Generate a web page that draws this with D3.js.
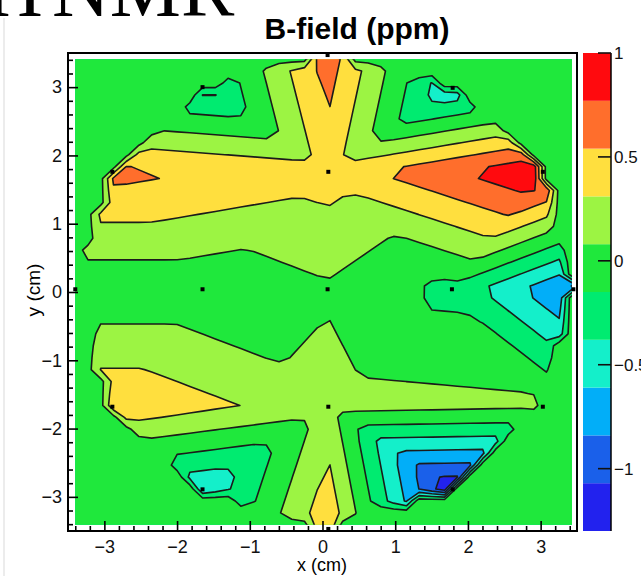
<!DOCTYPE html>
<html><head><meta charset="utf-8">
<script src="https://cdn.jsdelivr.net/npm/d3@7"></script>
<style>body{margin:0;background:#fff}svg{display:block}</style>
</head><body>
<svg id="chart" width="641" height="576"></svg>
<script>
// ---- measured points (x cm, y cm, B-field ppm) ----
const pointX = [0.07, 1.78, 0.08, -1.65, 0.08, 3.45, 3.03, 1.79, 0.07, -1.65, -2.89, -3.40, -2.89, -1.65, 0.08, 1.79, 3.03];
const pointY = [0.04, 0.04, 1.76, 0.04, -1.68, 0.04, 1.76, 2.99, 3.47, 3.00, 1.76, 0.04, -1.68, -2.89, -3.47, -2.89, -1.68];
const pointZ = [0.05, -0.22, 0.42, -0.10, 0.18, -0.90, 1.00, -0.60, 0.67, -0.48, 0.62, -0.10, 0.51, -0.60, 0.50, -1.30, 0.12];
// Delaunay triangles (point indices) used for the linear interpolation
const triangles = [
  [0,1,2],[0,2,3],[0,3,4],[0,4,1],
  [1,2,6],[2,6,7],[2,7,8],[1,5,6],
  [3,2,10],[2,10,9],[2,9,8],[3,11,10],
  [3,4,12],[4,12,13],[4,13,14],[3,11,12],
  [1,4,16],[4,16,15],[4,15,14],[1,5,16]
];
// contour levels and palette
const levels = [-1.3, -1.07, -0.84, -0.61, -0.38, -0.15, 0.08, 0.31, 0.54, 0.77, 1.0];
const bandColors = ["#2222ee", "#1a60ea", "#02aef8", "#14efca", "#00eb70", "#1fe83c", "#9cf443", "#ffdf3e", "#ff6e2c", "#ff0a0e"];
const xTicks = [-3, -2, -1, 0, 1, 2, 3];
const yTicks = [-3, -2, -1, 0, 1, 2, 3];
const zTicks = [-1, -0.5, 0, 0.5, 1];

const svg = d3.select("#chart");
const font = "'Liberation Sans', Arial, Helvetica, sans-serif";

const frame = {l: 68, r: 577, t: 53, b: 531};
const x = d3.scaleLinear().domain([-3.5, 3.5]).range([frame.l, frame.r]);
const y = d3.scaleLinear().domain([-3.5, 3.5]).range([frame.b, frame.t]);

// interpolation grid (histogram bin centres)
const NG = 40, gx0 = -3.40, gx1 = 3.43, gy0 = -3.41, gy1 = 3.41;
const sx = (gx1 - gx0) / (NG - 1), sy = (gy1 - gy0) / (NG - 1);
function interp(px, py) {
  for (const [a, b, c] of triangles) {
    const x1 = pointX[a], y1 = pointY[a], x2 = pointX[b], y2 = pointY[b], x3 = pointX[c], y3 = pointY[c];
    const det = (y2 - y3) * (x1 - x3) + (x3 - x2) * (y1 - y3);
    const l1 = ((y2 - y3) * (px - x3) + (x3 - x2) * (py - y3)) / det;
    const l2 = ((y3 - y1) * (px - x3) + (x1 - x3) * (py - y3)) / det;
    const l3 = 1 - l1 - l2;
    if (l1 >= -1e-9 && l2 >= -1e-9 && l3 >= -1e-9) return l1 * pointZ[a] + l2 * pointZ[b] + l3 * pointZ[c];
  }
  return 0;
}
const grid = new Array(NG * NG);
for (let j = 0; j < NG; j++) for (let i = 0; i < NG; i++) grid[j * NG + i] = interp(gx0 + i * sx, gy1 - j * sy);

const contours = d3.contours().size([NG, NG]).thresholds(levels.slice(0, 10))(grid);
const proj = d3.geoTransform({
  point(cx, cy) { this.stream.point(x(gx0 + (cx - 0.5) * sx), y(gy1 - (cy - 0.5) * sy)); }
});
const path = d3.geoPath(proj);

svg.append("defs").append("clipPath").attr("id", "gclip").append("rect")
  .attr("x", x(gx0)).attr("y", y(gy1)).attr("width", x(gx1) - x(gx0)).attr("height", y(gy0) - y(gy1));

const plot = svg.append("g").attr("clip-path", "url(#gclip)");
plot.selectAll("path.band").data(contours).join("path")
  .attr("class", "band").attr("d", path)
  .attr("fill", (d, i) => bandColors[i]).attr("stroke", "none");
plot.selectAll("path.line").data(contours.slice(1)).join("path")
  .attr("class", "line").attr("d", path)
  .attr("fill", "none").attr("stroke", "#1b1b1b").attr("stroke-width", 1.6).attr("stroke-linejoin", "round");

// markers
svg.append("g").selectAll("rect").data(pointX.map((v, i) => i)).join("rect")
  .attr("x", i => x(pointX[i]) - 2).attr("y", i => y(pointY[i]) - 2)
  .attr("width", 4).attr("height", 4).attr("fill", "#000");

// axes
const minorX = d3.range(-3.4, 3.41, 0.2).map(v => +v.toFixed(1)).filter(v => Math.abs(v - Math.round(v)) > 1e-6);
const fmt = d => (d < 0 ? "\u2212" : "") + Math.abs(d);

svg.append("g").attr("transform", `translate(0,${frame.b})`)
  .call(d3.axisBottom(x).tickValues(xTicks).tickSize(-10).tickPadding(9).tickFormat(fmt));
svg.append("g").attr("transform", `translate(0,${frame.b})`)
  .call(d3.axisBottom(x).tickValues(minorX).tickSize(-5).tickFormat(""));
svg.append("g").attr("transform", `translate(${frame.l},0)`)
  .call(d3.axisLeft(y).tickValues(yTicks).tickSize(-10).tickPadding(6).tickFormat(fmt));
svg.append("g").attr("transform", `translate(${frame.l},0)`)
  .call(d3.axisLeft(y).tickValues(minorX).tickSize(-5).tickFormat(""));
svg.selectAll(".domain").remove();
svg.selectAll(".tick line").attr("stroke", "#000").attr("stroke-width", 1.6);
svg.selectAll(".tick text").attr("font-family", font).attr("font-size", 18).attr("fill", "#111");

svg.append("rect").attr("x", frame.l).attr("y", frame.t)
  .attr("width", frame.r - frame.l).attr("height", frame.b - frame.t)
  .attr("fill", "none").attr("stroke", "#000").attr("stroke-width", 2);

// colour bar
const z = d3.scaleLinear().domain([levels[0], levels[levels.length - 1]]).range([531, 53]);
const cb = svg.append("g");
cb.selectAll("rect").data(bandColors).join("rect")
  .attr("x", 583).attr("width", 28)
  .attr("y", (d, i) => z(levels[i + 1])).attr("height", (d, i) => z(levels[i]) - z(levels[i + 1]))
  .attr("fill", d => d);
cb.append("line").attr("x1", 611).attr("x2", 611).attr("y1", 53).attr("y2", 531).attr("stroke", "#000").attr("stroke-width", 1.5);
cb.selectAll("line.t").data(zTicks).join("line").attr("class", "t")
  .attr("x1", 598).attr("x2", 611).attr("y1", d => z(d)).attr("y2", d => z(d))
  .attr("stroke", "#111").attr("stroke-width", 1.6);
cb.selectAll("text").data(zTicks).join("text")
  .attr("x", 614).attr("y", d => z(d)).attr("dy", "0.35em")
  .attr("font-family", font).attr("font-size", 17).attr("fill", "#111")
  .text(d => fmt(d));

// titles
svg.append("text").attr("x", 357).attr("y", 39).attr("text-anchor", "middle")
  .attr("font-family", font).attr("font-size", 30).attr("font-weight", "bold").text("B-field (ppm)");
svg.append("text").attr("x", 322).attr("y", 571).attr("text-anchor", "middle")
  .attr("font-family", font).attr("font-size", 18).text("x (cm)");
svg.append("text").attr("transform", "translate(40,290) rotate(-90)").attr("text-anchor", "middle")
  .attr("font-family", font).attr("font-size", 19).text("y (cm)");

// cropped heading from the page above
svg.append("line").attr("x1", 4).attr("x2", 4).attr("y1", 18).attr("y2", 576).attr("stroke", "#e6e6e6").attr("stroke-width", 1.5);
svg.append("text").attr("x", -15).attr("y", 16).attr("font-family", "'Liberation Serif', 'Times New Roman', serif")
  .attr("font-size", 80).text("H");
svg.append("text").attr("x", 52).attr("y", 16).attr("font-family", "'Liberation Serif', 'Times New Roman', serif")
  .attr("font-size", 80).text("NMR");
</script>
</body></html>
